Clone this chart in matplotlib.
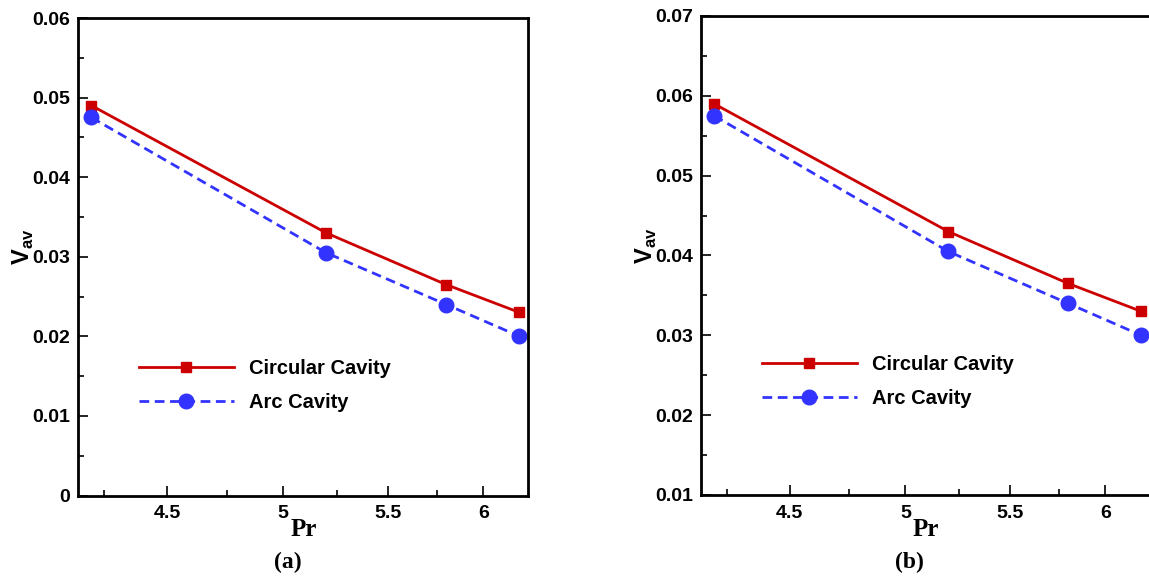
import numpy as np
import matplotlib
matplotlib.use('Agg')
import matplotlib.pyplot as plt
from matplotlib.ticker import FixedLocator, FixedFormatter, NullFormatter

plt.rcParams['font.family'] = 'Liberation Sans'
plt.rcParams['mathtext.fontset'] = 'custom'
plt.rcParams['mathtext.rm'] = 'Liberation Sans'
plt.rcParams['mathtext.bf'] = 'Liberation Sans:bold'

# data
pr = [4.2, 5.2, 5.8, 6.2]
circ_a = [0.049, 0.033, 0.0265, 0.023]
arc_a = [0.0475, 0.0305, 0.024, 0.020]
circ_b = [0.059, 0.043, 0.0365, 0.033]
arc_b = [0.0575, 0.0405, 0.034, 0.030]

xmaj = [4.5, 5, 5.5, 6]
xmaj_lab = ['4.5', '5', '5.5', '6']
xmin = [4.25, 4.75, 5.25, 5.75]

red = '#cc0000'
blue = '#3333ff'

fig = plt.figure(figsize=(11.49, 5.79), dpi=100)
ax1 = fig.add_axes([0.0681, 0.1442, 0.3917, 0.8247])
ax2 = fig.add_axes([0.6101, 0.1451, 0.3908, 0.8273])


def setup(ax, circ, arc, ylim, yticks, panel, leg_xy):
    ax.plot(pr, circ, '-', color=red, lw=2.0, marker='s', ms=7.5,
            label='Circular Cavity')
    ax.plot(pr, arc, '--', color=blue, lw=2.0, marker='o', ms=10.5,
            dashes=(3.5, 2.0), label='Arc Cavity')
    ax.set_xscale('log')
    ax.set_xlim(4.15, 6.25)
    ax.set_ylim(*ylim)
    ax.xaxis.set_major_locator(FixedLocator(xmaj))
    ax.xaxis.set_major_formatter(FixedFormatter(xmaj_lab))
    ax.xaxis.set_minor_locator(FixedLocator(xmin))
    ax.xaxis.set_minor_formatter(NullFormatter())
    ax.set_yticks(yticks)
    ax.set_yticklabels(['0' if v == 0 else '%.2f' % v for v in yticks])
    ax.set_yticks(np.arange(ylim[0] + 0.005, ylim[1], 0.01), minor=True)
    for s in ax.spines.values():
        s.set_linewidth(2.0)
    ax.tick_params(which='major', direction='in', length=7, width=1.2,
                   labelsize=14, pad=6)
    ax.tick_params(which='minor', direction='in', length=4, width=1.2)
    ax.tick_params(axis='x', which='major', pad=7)
    for lab in ax.get_xticklabels() + ax.get_yticklabels():
        lab.set_fontweight('bold')
    ax.set_xlabel('Pr', family='Liberation Serif', fontweight='bold',
                  fontsize=18, labelpad=-3)
    ax.set_ylabel(r'$\mathbf{V}_{\mathbf{av}}$', fontsize=17)
    ax.yaxis.set_label_coords(-0.094, 0.52)
    ax.text(0.465, -0.14, panel, transform=ax.transAxes, ha='center',
            va='center', family='Liberation Serif', fontweight='bold',
            fontsize=17)
    ax.legend(loc='center left', bbox_to_anchor=leg_xy, frameon=False,
              prop={'size': 14.5, 'weight': 'bold'}, handlelength=4.7,
              handletextpad=0.75, labelspacing=0.75, borderpad=0,
              borderaxespad=0)


setup(ax1, circ_a, arc_a, (0, 0.06), np.arange(0, 0.061, 0.01), '(a)',
      (0.135, 0.231))
setup(ax2, circ_b, arc_b, (0.01, 0.07), np.arange(0.01, 0.071, 0.01), '(b)',
      (0.136, 0.236))

fig.savefig('out.png', dpi=100)
